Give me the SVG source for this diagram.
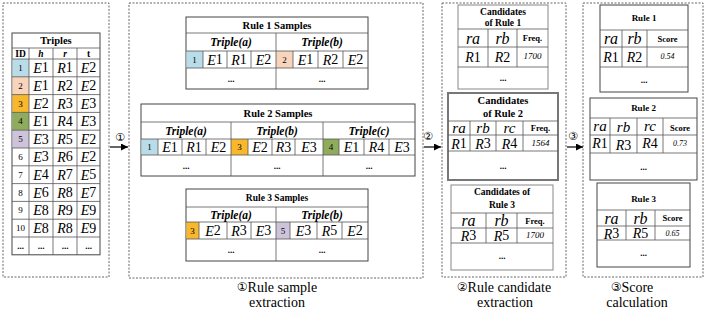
<svg xmlns="http://www.w3.org/2000/svg" width="706" height="311" viewBox="0 0 706 311" font-family="'Liberation Serif', 'Times New Roman', serif">
<defs>
<marker id="ah" viewBox="0 0 10 10" refX="10" refY="5" markerWidth="9" markerHeight="7" orient="auto" markerUnits="userSpaceOnUse">
<path d="M0,0 L10,5 L0,10 z" fill="#000"/>
</marker>
<style>
text{font-family:'Liberation Serif','Times New Roman',serif;text-anchor:middle;dominant-baseline:central;fill:#000}
.dash{fill:none;stroke:#666;stroke-width:1;stroke-dasharray:2,1.5}
.tb{fill:#fff;stroke:#444;stroke-width:1}
.tb2{fill:#fff;stroke:#777;stroke-width:2}
.tbg{fill:#fff;stroke:#888;stroke-width:1}
.ln{stroke:#555;stroke-width:0.8;fill:none}
.t{font-weight:bold;font-size:10.5px}
.th{font-weight:bold;font-style:italic;font-size:11.5px}
.m{font-size:14px}
.i{font-style:italic}
.id{font-size:9px}
.el{font-size:9px;font-weight:bold}
.v{font-size:9px;font-style:italic}
.b8{font-size:8.5px;font-weight:bold}
.rr{font-size:16px;font-style:italic}
.rs{font-size:15px;font-style:italic}
.cap{font-size:14px}
.lab{font-size:11px;font-family:'DejaVu Sans',sans-serif}
.capc{font-family:'DejaVu Sans',sans-serif;font-size:12px}
.c1{fill:#b9dde8}
.c2{fill:#f9d4bd}
.c3{fill:#f8b72c}
.c4{fill:#8fac5d}
.c5{fill:#cdc4dc}
.conn{stroke:#000;stroke-width:1.2;fill:none;marker-end:url(#ah)}
</style>
</defs>
<rect width="706" height="311" fill="#fff"/>

<g id="stage-boxes">
<rect class="dash" x="3" y="3" width="106" height="274"/>
<rect class="dash" x="129" y="3" width="294" height="275"/>
<rect class="dash" x="442" y="3" width="124" height="274"/>
<rect class="dash" x="583" y="3" width="120" height="274"/>
</g>

<g id="triples">
<rect class="tb" x="12" y="33" width="88" height="221.8"/>
<rect class="c1" x="12.5" y="59" width="16.5" height="17.8"/>
<rect class="c2" x="12.5" y="76.8" width="16.5" height="17.8"/>
<rect class="c3" x="12.5" y="94.6" width="16.5" height="17.8"/>
<rect class="c4" x="12.5" y="112.4" width="16.5" height="17.8"/>
<rect class="c5" x="12.5" y="130.2" width="16.5" height="17.8"/>
<path class="ln" d="M12 48H100M12 59H100M12 76.8H100M12 94.6H100M12 112.4H100M12 130.2H100M12 148H100M12 165.8H100M12 183.6H100M12 201.4H100M12 219.2H100M12 237H100M29 48V254.8M53 48V254.8M77 48V254.8"/>
<text class="t" x="56" y="40.5">Triples</text>
<text class="b8" style="font-size:9.5px" x="20.5" y="53.5">ID</text>
<text class="b8 i" style="font-size:9.5px" x="41" y="53.5">h</text>
<text class="b8 i" style="font-size:9.5px" x="65" y="53.5">r</text>
<text class="b8" style="font-size:9.5px" x="88.5" y="53.5">t</text>
<text class="id" x="20.5" y="67.9">1</text><text class="m" x="41" y="67.9"><tspan class="i">E</tspan>1</text><text class="m" x="65" y="67.9"><tspan class="i">R</tspan>1</text><text class="m" x="88.5" y="67.9"><tspan class="i">E</tspan>2</text>
<text class="id" x="20.5" y="85.7">2</text><text class="m" x="41" y="85.7"><tspan class="i">E</tspan>1</text><text class="m" x="65" y="85.7"><tspan class="i">R</tspan>2</text><text class="m" x="88.5" y="85.7"><tspan class="i">E</tspan>2</text>
<text class="id" x="20.5" y="103.5">3</text><text class="m" x="41" y="103.5"><tspan class="i">E</tspan>2</text><text class="m" x="65" y="103.5"><tspan class="i">R</tspan>3</text><text class="m" x="88.5" y="103.5"><tspan class="i">E</tspan>3</text>
<text class="id" x="20.5" y="121.3">4</text><text class="m" x="41" y="121.3"><tspan class="i">E</tspan>1</text><text class="m" x="65" y="121.3"><tspan class="i">R</tspan>4</text><text class="m" x="88.5" y="121.3"><tspan class="i">E</tspan>3</text>
<text class="id" x="20.5" y="139.1">5</text><text class="m" x="41" y="139.1"><tspan class="i">E</tspan>3</text><text class="m" x="65" y="139.1"><tspan class="i">R</tspan>5</text><text class="m" x="88.5" y="139.1"><tspan class="i">E</tspan>2</text>
<text class="id" x="20.5" y="156.9">6</text><text class="m" x="41" y="156.9"><tspan class="i">E</tspan>3</text><text class="m" x="65" y="156.9"><tspan class="i">R</tspan>6</text><text class="m" x="88.5" y="156.9"><tspan class="i">E</tspan>2</text>
<text class="id" x="20.5" y="174.7">7</text><text class="m" x="41" y="174.7"><tspan class="i">E</tspan>4</text><text class="m" x="65" y="174.7"><tspan class="i">R</tspan>7</text><text class="m" x="88.5" y="174.7"><tspan class="i">E</tspan>5</text>
<text class="id" x="20.5" y="192.5">8</text><text class="m" x="41" y="192.5"><tspan class="i">E</tspan>6</text><text class="m" x="65" y="192.5"><tspan class="i">R</tspan>8</text><text class="m" x="88.5" y="192.5"><tspan class="i">E</tspan>7</text>
<text class="id" x="20.5" y="210.3">9</text><text class="m" x="41" y="210.3"><tspan class="i">E</tspan>8</text><text class="m" x="65" y="210.3"><tspan class="i">R</tspan>9</text><text class="m" x="88.5" y="210.3"><tspan class="i">E</tspan>9</text>
<text class="id" x="20.5" y="228.1">10</text><text class="m" x="41" y="228.1"><tspan class="i">E</tspan>8</text><text class="m" x="65" y="228.1"><tspan class="i">R</tspan>8</text><text class="m" x="88.5" y="228.1"><tspan class="i">E</tspan>9</text>
<text class="el" x="20.5" y="245.9">...</text><text class="el" x="41" y="245.9">...</text><text class="el" x="65" y="245.9">...</text><text class="el" x="88.5" y="245.9">...</text>
</g>

<g id="rule1-samples">
<rect class="tb" x="186" y="17" width="182" height="72"/>
<rect class="c1" x="186.5" y="51" width="16.5" height="17"/>
<rect class="c2" x="276" y="51" width="17" height="17"/>
<path class="ln" d="M186 33H368M186 51H368M186 68H368M276 33V89M203 51V68M227 51V68M251 51V68M293 51V68M318 51V68M343 51V68"/>
<text class="t" x="277" y="25">Rule 1 Samples</text>
<text class="th" x="231" y="42">Triple(a)</text>
<text class="th" x="322" y="42">Triple(b)</text>
<text class="id" x="194.5" y="59.5">1</text><text class="m" x="215" y="59.5"><tspan class="i">E</tspan>1</text><text class="m" x="239" y="59.5"><tspan class="i">R</tspan>1</text><text class="m" x="263.5" y="59.5"><tspan class="i">E</tspan>2</text>
<text class="id" x="284.5" y="59.5">2</text><text class="m" x="305.5" y="59.5"><tspan class="i">E</tspan>1</text><text class="m" x="330.5" y="59.5"><tspan class="i">R</tspan>2</text><text class="m" x="355.5" y="59.5"><tspan class="i">E</tspan>2</text>
<text class="el" x="231" y="78.5">...</text><text class="el" x="322" y="78.5">...</text>
</g>

<g id="rule2-samples">
<rect class="tb" x="141" y="104" width="274" height="72"/>
<rect class="c1" x="141.5" y="139" width="16.5" height="16"/>
<rect class="c3" x="231" y="139" width="17" height="16"/>
<rect class="c4" x="323" y="139" width="16" height="16"/>
<path class="ln" d="M141 122H415M141 139H415M141 155H415M231 122V176M323 122V176M158 139V155M182 139V155M206 139V155M248 139V155M272 139V155M295 139V155M339 139V155M364 139V155M389 139V155"/>
<text class="t" x="278" y="113">Rule 2 Samples</text>
<text class="th" x="186" y="130.5">Triple(a)</text>
<text class="th" x="277" y="130.5">Triple(b)</text>
<text class="th" x="369" y="130.5">Triple(c)</text>
<text class="id" x="149.5" y="147">1</text><text class="m" x="170" y="147"><tspan class="i">E</tspan>1</text><text class="m" x="194" y="147"><tspan class="i">R</tspan>1</text><text class="m" x="218.5" y="147"><tspan class="i">E</tspan>2</text>
<text class="id" x="239.5" y="147">3</text><text class="m" x="260" y="147"><tspan class="i">E</tspan>2</text><text class="m" x="283.5" y="147"><tspan class="i">R</tspan>3</text><text class="m" x="309" y="147"><tspan class="i">E</tspan>3</text>
<text class="id" x="331" y="147">4</text><text class="m" x="351.5" y="147"><tspan class="i">E</tspan>1</text><text class="m" x="376.5" y="147"><tspan class="i">R</tspan>4</text><text class="m" x="402" y="147"><tspan class="i">E</tspan>3</text>
<text class="el" x="186" y="165.5">...</text><text class="el" x="277" y="165.5">...</text><text class="el" x="369" y="165.5">...</text>
</g>

<g id="rule3-samples">
<rect class="tb" x="186" y="189" width="182" height="72"/>
<rect class="c3" x="186.5" y="222" width="12.5" height="17"/>
<rect class="c5" x="276" y="222" width="14" height="17"/>
<path class="ln" d="M186 207H368M186 222H368M186 239H368M276 207V261M199 222V239M227 222V239M251 222V239M290 222V239M317 222V239M342 222V239"/>
<text class="t" style="font-size:9.5px" x="277" y="198">Rule 3 Samples</text>
<text class="th" x="231" y="214.5">Triple(a)</text>
<text class="th" x="322" y="214.5">Triple(b)</text>
<text class="id" x="192.5" y="230.5">3</text><text class="m" x="213" y="230.5"><tspan class="i">E</tspan>2</text><text class="m" x="239" y="230.5"><tspan class="i">R</tspan>3</text><text class="m" x="263.5" y="230.5"><tspan class="i">E</tspan>3</text>
<text class="id" x="283" y="230.5">5</text><text class="m" x="303.5" y="230.5"><tspan class="i">E</tspan>3</text><text class="m" x="329.5" y="230.5"><tspan class="i">R</tspan>5</text><text class="m" x="355" y="230.5"><tspan class="i">E</tspan>2</text>
<text class="el" x="231" y="250">...</text><text class="el" x="322" y="250">...</text>
</g>

<g id="cand1">
<rect class="tbg" x="458" y="5" width="90" height="84"/>
<path class="ln" d="M458 29H548M458 47H548M458 67H548M488 29V67M517 29V67"/>
<text class="t" style="font-size:9.5px" x="503" y="12">Candidates</text>
<text class="t" style="font-size:9.5px" x="503" y="23">of Rule 1</text>
<text class="rr" x="473" y="38">ra</text><text class="rr" x="502.5" y="38">rb</text><text class="b8" x="532.5" y="38">Freq.</text>
<text class="m" x="473" y="57"><tspan class="i">R</tspan>1</text><text class="m" x="502.5" y="57"><tspan class="i">R</tspan>2</text><text class="v" x="532.5" y="56">1700</text>
<text class="el" x="503" y="78">...</text>
</g>

<g id="cand2">
<rect class="tb2" x="448" y="93" width="110" height="87"/>
<path class="ln" d="M448 121H558M448 135H558M448 151H558M470 121V151M496 121V151M523 121V151"/>
<text class="t" x="503" y="100.5">Candidates</text>
<text class="t" x="503" y="113">of Rule 2</text>
<text class="rs" x="459" y="127.5">ra</text><text class="rs" x="483" y="127.5">rb</text><text class="rs" x="509.5" y="127.5">rc</text><text class="b8" x="540.5" y="128">Freq.</text>
<text class="m" x="459" y="143.5"><tspan class="i">R</tspan>1</text><text class="m" x="483" y="143.5"><tspan class="i">R</tspan>3</text><text class="m" x="509.5" y="143.5"><tspan class="i">R</tspan>4</text><text class="v" x="540.5" y="143">1564</text>
<text class="el" x="503" y="165.5">...</text>
</g>

<g id="cand3">
<rect class="tbg" x="451" y="185" width="102" height="85"/>
<path class="ln" d="M451 213H553M451 228H553M451 243H553M486 213V243M517 213V243"/>
<text class="t" style="font-size:9.5px" x="502" y="192">Candidates of</text>
<text class="t" style="font-size:9.5px" x="502" y="205">Rule 3</text>
<text class="rr" x="468.5" y="220.5">ra</text><text class="rr" x="501.5" y="220.5">rb</text><text class="b8" x="535" y="220.5">Freq.</text>
<text class="m" x="468.5" y="235.5"><tspan class="i">R</tspan>3</text><text class="m" x="501.5" y="235.5"><tspan class="i">R</tspan>5</text><text class="v" x="535" y="235">1700</text>
<text class="el" x="502" y="256">...</text>
</g>

<g id="score1">
<rect class="tb" x="600" y="5" width="88" height="87"/>
<path class="ln" d="M600 30H688M600 47H688M600 67H688M622 30V67M647 30V67"/>
<text class="t" style="font-size:9px" x="644" y="17.5">Rule 1</text>
<text class="rr" x="611" y="38.5">ra</text><text class="rr" x="634.5" y="38.5">rb</text><text class="b8" x="667.5" y="38.5">Score</text>
<text class="m" x="611" y="57"><tspan class="i">R</tspan>1</text><text class="m" x="634.5" y="57"><tspan class="i">R</tspan>2</text><text class="v" style="font-size:8px" x="667.5" y="56">0.54</text>
<text class="el" x="644" y="79.5">...</text>
</g>

<g id="score2">
<rect class="tb" x="590" y="98" width="107" height="82"/>
<path class="ln" d="M590 118H697M590 135H697M590 153H697M610 118V153M637 118V153M663 118V153"/>
<text class="t" style="font-size:9px" x="643.5" y="108">Rule 2</text>
<text class="rs" x="600" y="126">ra</text><text class="rs" x="623.5" y="126.5">rb</text><text class="rs" x="650" y="126">rc</text><text class="b8" x="680" y="127.5">Score</text>
<text class="m" x="600" y="143"><tspan class="i">R</tspan>1</text><text class="m" x="623.5" y="145"><tspan class="i">R</tspan>3</text><text class="m" x="650" y="143"><tspan class="i">R</tspan>4</text><text class="v" style="font-size:8px" x="680" y="143">0.73</text>
<text class="el" x="643.5" y="166.5">...</text>
</g>

<g id="score3">
<rect class="tb" x="597" y="183" width="93" height="84"/>
<path class="ln" d="M597 210H690M597 226H690M597 240H690M626 210V240M655 210V240"/>
<text class="t" style="font-size:9px" x="643.5" y="199">Rule 3</text>
<text class="rr" x="611.5" y="218">ra</text><text class="rr" x="640.5" y="218">rb</text><text class="b8" x="672.5" y="218">Score</text>
<text class="m" x="611.5" y="233.5"><tspan class="i">R</tspan>3</text><text class="m" x="640.5" y="233"><tspan class="i">R</tspan>5</text><text class="v" style="font-size:8px" x="672.5" y="233">0.65</text>
<text class="el" x="643.5" y="253">...</text>
</g>

<g id="connectors">
<line class="conn" x1="110" y1="147" x2="128" y2="147"/>
<line class="conn" x1="424" y1="147" x2="441" y2="147"/>
<line class="conn" x1="567" y1="147" x2="583" y2="147"/>
<text class="lab" x="120" y="137">①</text>
<text class="lab" x="428" y="136">②</text>
<text class="lab" x="573" y="136">③</text>
</g>

<g id="captions">
<text class="cap" x="277" y="287"><tspan class="capc">①</tspan>Rule sample</text>
<text class="cap" x="277" y="302">extraction</text>
<text class="cap" x="504" y="287"><tspan class="capc">②</tspan>Rule candidate</text>
<text class="cap" x="505" y="302">extraction</text>
<text class="cap" x="632" y="287"><tspan class="capc">③</tspan>Score</text>
<text class="cap" x="637" y="302">calculation</text>
</g>
</svg>
